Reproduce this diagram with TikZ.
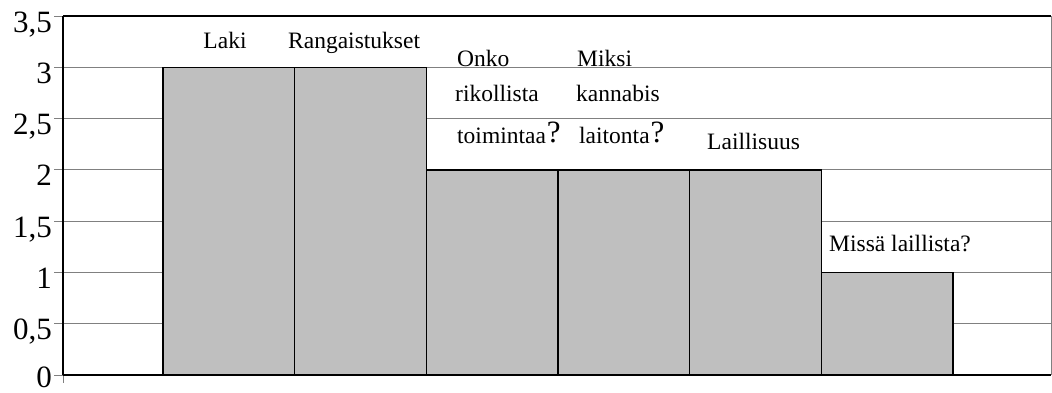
\documentclass[tikz,border=0pt]{standalone}
\usepackage{fontspec}
\setmainfont{Liberation Serif}
\begin{document}
\begin{tikzpicture}[x=1pt,y=-1pt,
  grid/.style={draw=black!50, line width=1pt},
  tickmark/.style={draw=black!50, line width=1pt},
  axisline/.style={draw=black, line width=1.8pt},
  bar/.style={fill=black!25, draw=black, line width=1.4pt},
  numlbl/.style={anchor=base east, inner sep=0pt, font=\fontsize{31}{31}\selectfont},
  catlbl/.style={anchor=base west, inner sep=0pt, font=\fontsize{23.5}{24}\selectfont},
  catlblc/.style={anchor=base, inner sep=0pt, font=\fontsize{23.5}{24}\selectfont}]
\useasboundingbox (0,0) rectangle (1052,392);
\def\bq{\kern1pt\raisebox{0.5pt}{\fontsize{31}{31}\selectfont ?}}
% grid lines
\foreach \k in {1,...,6}{
  \draw[grid] (63,{375-\k*51.286}) -- (1051,{375-\k*51.286});
}
% right border and top
\draw[grid] (1051,16) -- (1051,375);
\draw[draw=black, line width=1.3pt] (63,16) -- (1051,16);
% ticks
\foreach \k in {0,...,7}{
  \draw[tickmark] (54,{375-\k*51.286}) -- (63,{375-\k*51.286});
}
\draw[tickmark] (63,375) -- (63,383);
% bars
\draw[bar] (163,375) rectangle (294.7,67.3);
\draw[bar] (294.7,375) rectangle (426.3,67.3);
\draw[bar] (426.3,375) rectangle (558,169.9);
\draw[bar] (558,375) rectangle (689.7,169.9);
\draw[bar] (689.7,375) rectangle (821.3,169.9);
\draw[bar] (821.3,375) rectangle (953,272.4);
% axes
\draw[axisline] (63,16) -- (63,375);
\draw[axisline] (63,375) -- (1051,375);
% y numbers
\node[numlbl] (n0) at (52,387.5) {0};
\node[numlbl] (n1) at (52,339.7) {0,5};
\node[numlbl] (n2) at (52,288.4) {1};
\node[numlbl] (n3) at (52,237.1) {1,5};
\node[numlbl] (n4) at (52,185.9) {2};
\node[numlbl] (n5) at (52,134.6) {2,5};
\node[numlbl] (n6) at (52,83.3) {3};
\node[numlbl] (n7) at (52,32) {3,5};
% category labels
\node[catlblc] (laki) at (225,48) {Laki};
\node[catlbl] (rang) at (288,48) {Rangaistukset};
\node[catlbl] (onko1) at (457,66) {Onko};
\node[catlbl] (onko2) at (455,101.5) {rikollista};
\node[catlbl] (onko3) at (457,143) {toimintaa\bq};
\node[catlbl] (miksi1) at (577,66) {Miksi};
\node[catlbl] (miksi2) at (576,101.5) {kannabis};
\node[catlbl] (miksi3) at (579,143) {laitonta\bq};
\node[catlbl] (laill) at (707,149) {Laillisuus};
\node[catlbl] (missa) at (829,251.5) {Missä laillista?};
\end{tikzpicture}
\end{document}
